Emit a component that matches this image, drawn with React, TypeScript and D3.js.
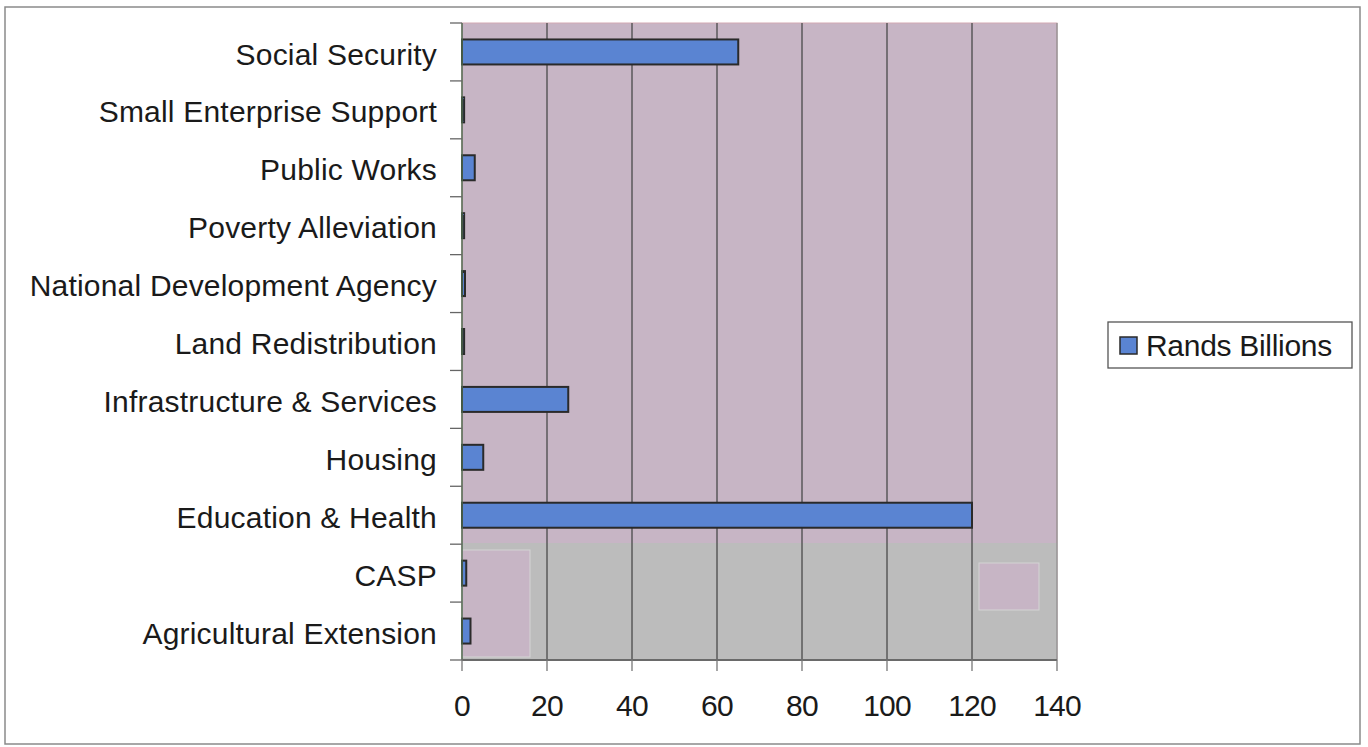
import React from "react";
import * as d3 from "d3";

const categories = [
  "Social Security",
  "Small Enterprise Support",
  "Public Works",
  "Poverty Alleviation",
  "National Development Agency",
  "Land Redistribution",
  "Infrastructure & Services",
  "Housing",
  "Education & Health",
  "CASP",
  "Agricultural Extension",
];
const randsBillions = [65, 0.5, 3, 0.5, 0.7, 0.5, 25, 5, 120, 1, 2];
const xTicks = [0, 20, 40, 60, 80, 100, 120, 140];
const seriesName = "Rands Billions";

const W = 1368;
const H = 747;
const plot = { left: 462, right: 1057, top: 23, bottom: 660 };
const FONT = "'Liberation Sans', Arial, Helvetica, sans-serif";

export default function App() {
  const x = d3.scaleLinear().domain([0, 140]).range([plot.left, plot.right]);
  const y = d3.scaleBand<string>().domain(categories).range([plot.top, plot.bottom]).padding(0);
  const barH = 25;
  const step = y.step();

  return (
    <svg
      width={W}
      height={H}
      style={{ position: "absolute", left: 0, top: 0, background: "#fff" }}
      fontFamily={FONT}
    >
      {/* outer frame */}
      <rect x={5} y={7} width={1355} height={737} fill="#fff" stroke="#8a8a8a" strokeWidth={1.5} />

      {/* plot background */}
      <rect x={plot.left} y={plot.top} width={plot.right - plot.left} height={plot.bottom - plot.top} fill="#c7b5c5" stroke="#d3a9b4" strokeWidth={1} />
      {/* lower greyed band of the plot area */}
      <rect x={plot.left} y={543} width={plot.right - plot.left} height={plot.bottom - 543} fill="#bcbcbc" />
      <rect x={plot.left} y={550} width={68} height={107} fill="#c7b5c5" stroke="#d4d4d4" strokeWidth={1} />
      <rect x={979} y={563} width={60} height={47} fill="#c7b5c5" stroke="#d4d4d4" strokeWidth={1} />

      {/* vertical gridlines */}
      {xTicks.slice(1).map((t) => (
        <line key={"g" + t} x1={x(t)} x2={x(t)} y1={plot.top} y2={plot.bottom} stroke={t === 140 ? "#8f8f8f" : "#4a4a4a"} strokeWidth={1.3} />
      ))}

      {/* bars */}
      {categories.map((c, i) => {
        const cy = (y(c) as number) + step / 2;
        return (
          <rect
            key={c}
            x={x(0)}
            y={cy - barH / 2}
            width={Math.max(x(randsBillions[i]) - x(0), 2)}
            height={barH}
            fill="#5a84d2"
            stroke="#2a2a2a"
            strokeWidth={2}
          />
        );
      })}

      {/* category axis */}
      <line x1={plot.left} x2={plot.left} y1={plot.top} y2={plot.bottom} stroke="#4f6a4f" strokeWidth={1.5} />
      {d3.range(categories.length + 1).map((i) => {
        const yy = plot.top + i * step;
        return <line key={"yt" + i} x1={plot.left - 12} x2={plot.left} y1={yy} y2={yy} stroke="#666" strokeWidth={1.3} />;
      })}
      {categories.map((c) => (
        <text
          key={"l" + c}
          x={437}
          y={(y(c) as number) + step / 2}
          dy="0.42em"
          textAnchor="end"
          fontSize={30}
          fill="#1a1a1a"
          letterSpacing={0.2}
        >
          {c}
        </text>
      ))}

      {/* value axis */}
      <line x1={plot.left} x2={plot.right} y1={plot.bottom} y2={plot.bottom} stroke="#6a6a6a" strokeWidth={2} />
      {xTicks.map((t) => (
        <g key={"xt" + t}>
          <line x1={x(t)} x2={x(t)} y1={plot.bottom} y2={plot.bottom + 11} stroke="#777" strokeWidth={1.3} />
          <text x={x(t)} y={716} textAnchor="middle" fontSize={30} fill="#1a1a1a" letterSpacing={-0.8}>
            {t}
          </text>
        </g>
      ))}

      {/* legend */}
      <rect x={1108} y={322} width={244} height={46} fill="#fff" stroke="#555" strokeWidth={1.3} />
      <rect x={1120} y={337} width={17} height={17} fill="#5a84d2" stroke="#2a2a2a" strokeWidth={1.5} />
      <text x={1146} y={356} fontSize={30} fill="#1a1a1a" letterSpacing={-0.3}>
        {seriesName}
      </text>
    </svg>
  );
}
